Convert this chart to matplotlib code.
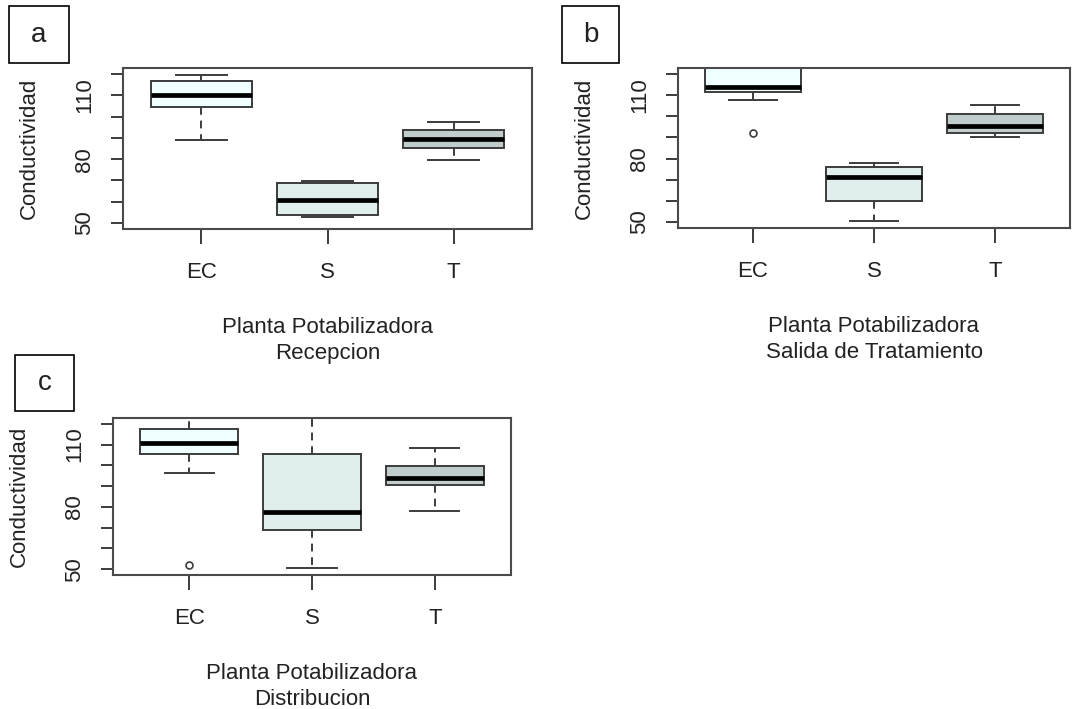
import matplotlib
matplotlib.use('Agg')
import matplotlib.pyplot as plt
from matplotlib.patches import Rectangle

plt.rcParams['font.family'] = ['Liberation Sans', 'DejaVu Sans']

grupos = ['EC', 'S', 'T']
colores = ['#F0FFFF', '#E0EEEE', '#C1CDCD']

# cada caja: bigote inferior, Q1, mediana, Q3, bigote superior, atipicos
recepcion_lo = [89.0, 52.7, 79.5]
recepcion_q1 = [104.4, 53.8, 85.2]
recepcion_med = [109.9, 60.6, 89.5]
recepcion_q3 = [116.8, 69.0, 93.8]
recepcion_hi = [119.7, 69.7, 97.6]
recepcion_out = [[], [], []]

salida_lo = [107.6, 50.7, 90.3]
salida_q1 = [111.3, 59.9, 92.3]
salida_med = [114.0, 71.1, 95.5]
salida_q3 = [126.0, 75.9, 101.2]
salida_hi = [131.0, 78.0, 105.5]
salida_out = [[92.0], [], []]

distrib_lo = [96.5, 50.8, 78.0]
distrib_q1 = [105.3, 69.1, 90.7]
distrib_med = [110.8, 77.7, 94.1]
distrib_q3 = [117.3, 105.3, 99.9]
distrib_hi = [126.0, 131.0, 108.4]
distrib_out = [[52.2], [], []]

W, H = 1075, 709
fig = plt.figure(figsize=(W / 100, H / 100), dpi=100)
gris = '#3c3c3c'


def px_rect(x0, y0, x1, y1):
    # pixeles (origen arriba a la izquierda) -> fraccion de figura
    return [x0 / W, 1 - y1 / H, (x1 - x0) / W, (y1 - y0) / H]


def panel(rect, lo, q1, med, q3, hi, out, titulo):
    ax = fig.add_axes(px_rect(*rect))
    stats = []
    for i in range(len(grupos)):
        stats.append(dict(whislo=lo[i], q1=q1[i], med=med[i], q3=q3[i],
                          whishi=hi[i], fliers=out[i]))
    bp = ax.bxp(stats, positions=[1, 2, 3], widths=0.8, capwidths=0.4,
                patch_artist=True,
                boxprops=dict(edgecolor=gris, linewidth=1.4),
                medianprops=dict(color='black', linewidth=3.4, solid_capstyle='butt'),
                whiskerprops=dict(color=gris, linewidth=1.4, linestyle=(0, (4, 3))),
                capprops=dict(color=gris, linewidth=1.4),
                flierprops=dict(marker='o', markerfacecolor='none',
                                markeredgecolor=gris, markersize=5,
                                markeredgewidth=1.2))
    for caja, c in zip(bp['boxes'], colores):
        caja.set_facecolor(c)

    ax.set_xlim(0.38, 3.62)
    ax.set_ylim(47.2, 122.8)
    ax.set_xticks([1, 2, 3])
    ax.set_xticklabels(grupos, fontsize=16, color='#222222')
    ax.set_yticks(range(50, 121, 10))
    ax.set_yticklabels([str(v) if v in (50, 80, 110) else '' for v in range(50, 121, 10)],
                       fontsize=16, color='#222222', rotation=90, va='center')
    ax.tick_params(axis='x', length=11, width=1.4, color=gris, pad=13)
    ax.tick_params(axis='y', length=9, width=1.4, color=gris, pad=11)
    for s in ax.spines.values():
        s.set_color('#4a4a4a')
        s.set_linewidth(1.5)
    ax.set_ylabel('Conductividad', fontsize=16, color='#222222', labelpad=25)
    ax.set_xlabel(titulo, fontsize=16, color='#222222', labelpad=24,
                  linespacing=1.35)
    return ax


def etiqueta(x0, y0, x1, y1, letra):
    fig.patches.append(Rectangle((x0 / W, 1 - y1 / H), (x1 - x0) / W, (y1 - y0) / H,
                                 transform=fig.transFigure, facecolor='white',
                                 edgecolor='black', linewidth=1.2))
    fig.text((x0 + x1) / 2 / W, 1 - (y0 + y1) / 2 / H, letra, fontsize=20,
             ha='center', va='center', color='#222222')


panel((123, 68, 532, 229), recepcion_lo, recepcion_q1, recepcion_med,
      recepcion_q3, recepcion_hi, recepcion_out,
      'Planta Potabilizadora\nRecepcion')
panel((678, 68, 1070, 228), salida_lo, salida_q1, salida_med,
      salida_q3, salida_hi, salida_out,
      'Planta Potabilizadora\nSalida de Tratamiento')
panel((113, 418, 511, 575), distrib_lo, distrib_q1, distrib_med,
      distrib_q3, distrib_hi, distrib_out,
      'Planta Potabilizadora\nDistribucion')

etiqueta(9, 6, 69, 63, 'a')
etiqueta(562, 6, 619, 63, 'b')
etiqueta(15, 355, 74, 411, 'c')

fig.savefig('out.png', dpi=100)
